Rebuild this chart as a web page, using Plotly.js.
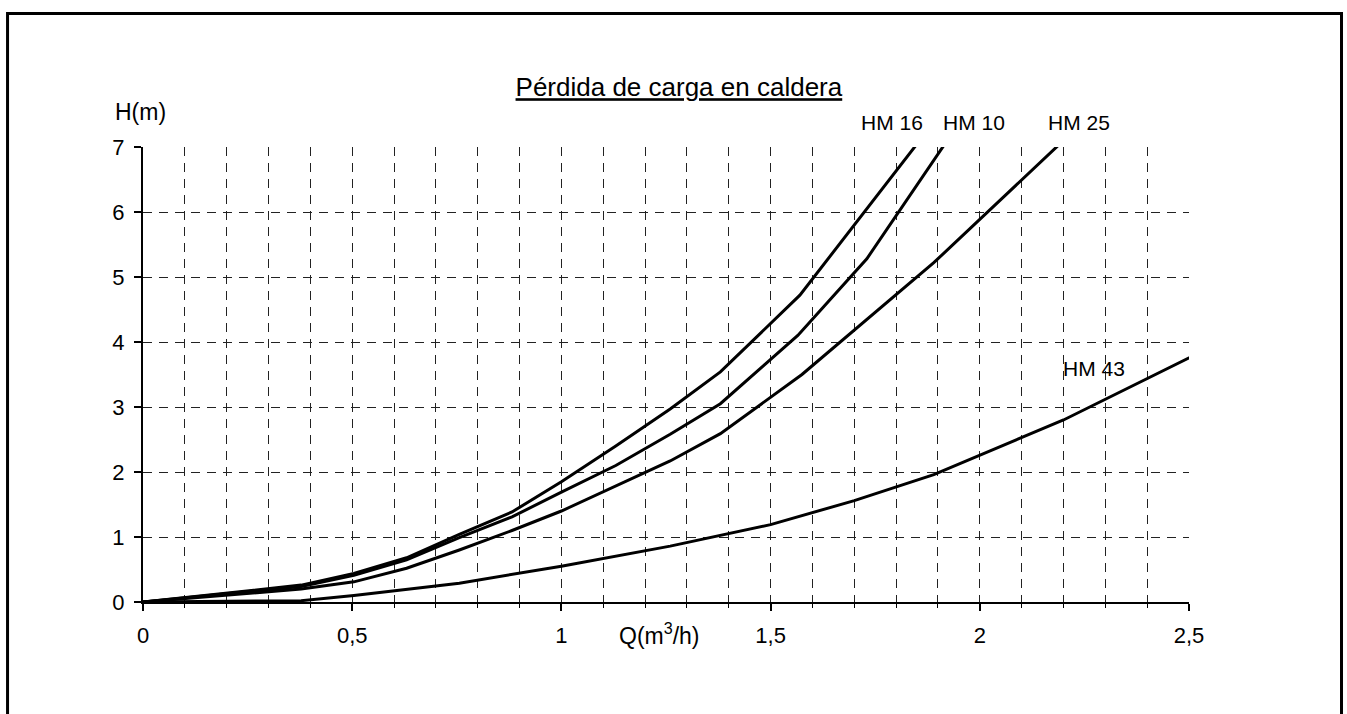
<!DOCTYPE html>
<html>
<head>
<meta charset="utf-8">
<script src="https://cdn.plot.ly/plotly-3.0.1.min.js"></script>
<style>html,body{margin:0;padding:0;background:#fff;}#chart{width:1347px;height:714px;}</style>
</head>
<body>
<div id="chart"></div>
<script>
// Q (m3/h) and H (m)
const qHM16 = [0, 0.378, 0.504, 0.63, 0.756, 0.882, 1.0, 1.13, 1.26, 1.38, 1.57, 1.89];
const hHM16 = [0, 0.26, 0.44, 0.68, 1.04, 1.385, 1.85, 2.4, 2.97, 3.54, 4.72, 7.38];

const qHM10 = [0, 0.378, 0.504, 0.63, 0.756, 0.882, 1.0, 1.13, 1.26, 1.38, 1.565, 1.73, 1.92];
const hHM10 = [0, 0.24, 0.41, 0.65, 0.99, 1.31, 1.69, 2.1, 2.58, 3.05, 4.1, 5.28, 7.08];

const qHM25 = [0, 0.378, 0.504, 0.63, 0.756, 0.882, 1.0, 1.13, 1.26, 1.38, 1.575, 1.89, 2.2];
const hHM25 = [0, 0.2, 0.31, 0.52, 0.8, 1.1, 1.4, 1.78, 2.17, 2.59, 3.5, 5.22, 7.1];

const qHM43 = [0, 0.378, 0.504, 0.756, 1.0, 1.26, 1.5, 1.7, 1.89, 2.2, 2.52];
const hHM43 = [0, 0.02, 0.1, 0.29, 0.55, 0.86, 1.19, 1.56, 1.96, 2.8, 3.82];

const seriesNames = ["HM 16", "HM 10", "HM 25", "HM 43"];
const titleText = "Pérdida de carga en caldera";
const yTitle = "H(m)";
const xTitle = "Q(m<sup>3</sup>/h)";

const FONT = "Liberation Sans, Arial, sans-serif";
const lineStyle = {color: "#000", width: 3};

const traces = [
  {x: qHM16, y: hHM16, name: seriesNames[0]},
  {x: qHM10, y: hHM10, name: seriesNames[1]},
  {x: qHM25, y: hHM25, name: seriesNames[2]},
  {x: qHM43, y: hHM43, name: seriesNames[3]}
].map(t => Object.assign(t, {type: "scatter", mode: "lines", line: lineStyle, hoverinfo: "x+y+name"}));

const gridDash = "9px,7px";
const layout = {
  width: 1347, height: 714,
  margin: {l: 143, r: 158, t: 147, b: 112},
  paper_bgcolor: "#fff", plot_bgcolor: "#fff",
  showlegend: false,
  separators: ", ",
  font: {family: FONT, color: "#000"},
  title: {
    text: "<u>" + titleText + "</u>",
    font: {family: FONT, size: 26, color: "#000"},
    xref: "container", x: 0.504, xanchor: "center",
    yref: "container", y: 0.878, yanchor: "middle"
  },
  xaxis: {
    range: [0, 2.5], dtick: 0.5, tick0: 0,
    showline: true, linecolor: "#000", linewidth: 2, mirror: false,
    ticks: "outside", ticklen: 7, tickwidth: 2, tickcolor: "#000",
    ticklabelstandoff: 6,
    tickfont: {family: FONT, size: 22, color: "#000"},
    showgrid: true, gridcolor: "#222", gridwidth: 1, griddash: gridDash,
    minor: {dtick: 0.1, tick0: 0, ticks: "outside", ticklen: 4, tickwidth: 1, tickcolor: "#000",
            showgrid: true, gridcolor: "#222", gridwidth: 1, griddash: gridDash},
    zeroline: false, fixedrange: true
  },
  yaxis: {
    range: [0, 7], dtick: 1, tick0: 0,
    showline: true, linecolor: "#000", linewidth: 2, mirror: false,
    ticks: "outside", ticklen: 7, tickwidth: 2, tickcolor: "#000",
    ticklabelstandoff: 5,
    tickfont: {family: FONT, size: 22, color: "#000"},
    showgrid: true, gridcolor: "#222", gridwidth: 1, griddash: gridDash,
    zeroline: false, fixedrange: true
  },
  annotations: [
    {text: yTitle, xref: "paper", yref: "paper", x: -0.029, y: 1.077, xanchor: "left", yanchor: "middle",
     showarrow: false, font: {family: FONT, size: 23, color: "#000"}},
    {text: xTitle, xref: "paper", yref: "paper", x: 0.494, y: -0.071, xanchor: "center", yanchor: "middle",
     showarrow: false, font: {family: FONT, size: 23, color: "#000"}},
    {text: seriesNames[0], xref: "paper", yref: "paper", x: 0.716, y: 1.053, xanchor: "center", yanchor: "middle",
     showarrow: false, font: {family: FONT, size: 21, color: "#000"}},
    {text: seriesNames[1], xref: "paper", yref: "paper", x: 0.794, y: 1.053, xanchor: "center", yanchor: "middle",
     showarrow: false, font: {family: FONT, size: 21, color: "#000"}},
    {text: seriesNames[2], xref: "paper", yref: "paper", x: 0.895, y: 1.053, xanchor: "center", yanchor: "middle",
     showarrow: false, font: {family: FONT, size: 21, color: "#000"}},
    {text: seriesNames[3], xref: "paper", yref: "paper", x: 0.909, y: 0.5125, xanchor: "center", yanchor: "middle",
     showarrow: false, font: {family: FONT, size: 21, color: "#000"}}
  ],
  shapes: [
    {type: "rect", xref: "paper", yref: "paper", x0: -0.1295, x1: 1.1458, y0: -0.5, y1: 1.2934,
     line: {color: "#000", width: 3}, fillcolor: "rgba(0,0,0,0)", layer: "above"}
  ]
};

Plotly.newPlot("chart", traces, layout, {displayModeBar: false});
</script>
</body>
</html>
